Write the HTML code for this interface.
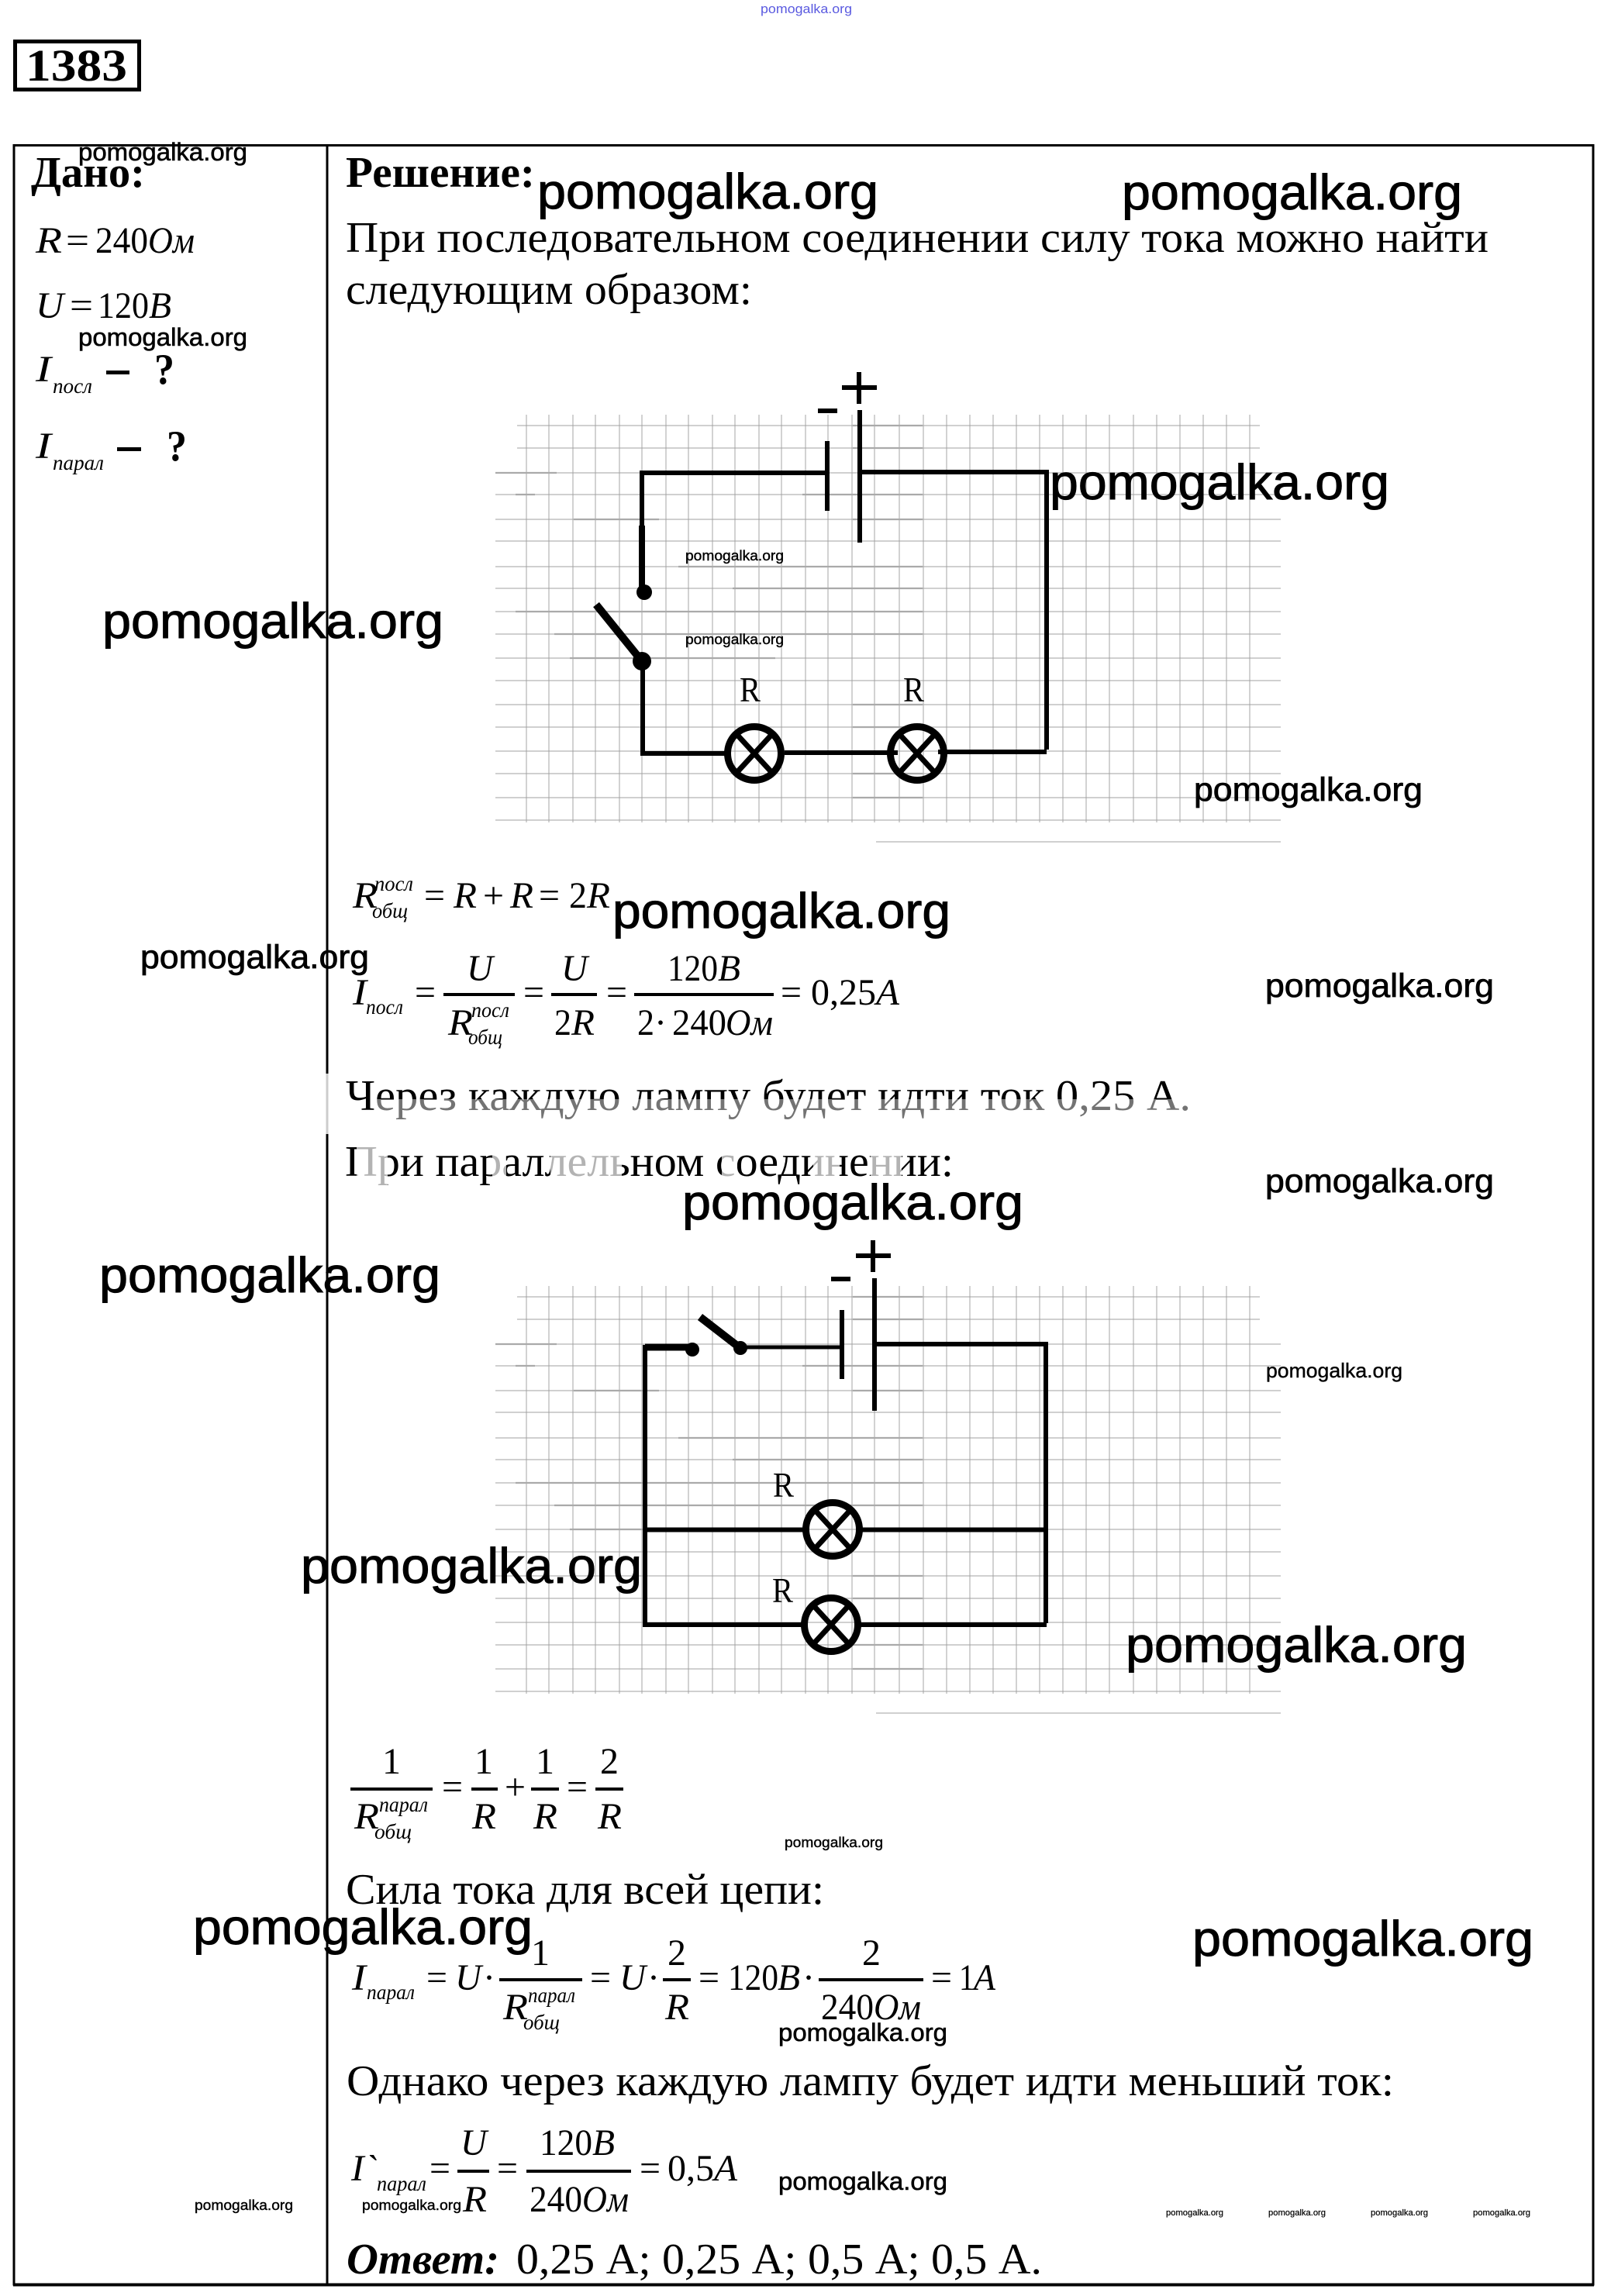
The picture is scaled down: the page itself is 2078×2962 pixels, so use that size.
<!DOCTYPE html>
<html><head><meta charset="utf-8"><style>
html,body{margin:0;padding:0;background:#fff}
svg{display:block}
text{font-family:"Liberation Serif",serif;fill:#000}
.w{font-family:"Liberation Sans",sans-serif}
.n{font-size:56px}.b{font-size:56px;font-weight:bold}
.m{font-size:48px}.i{font-size:48px;font-style:italic}
.s{font-size:27px;font-style:italic}
.w1{font-size:64px;stroke:#000;stroke-width:1}.w2{font-size:43px;stroke:#000;stroke-width:.8}.w3{font-size:32px;stroke:#000;stroke-width:.6}.w4{font-size:26px;stroke:#000;stroke-width:.4}.w5{font-size:18.5px;stroke:#000;stroke-width:.4}.w6{font-size:11px;stroke:#000;stroke-width:.2}
</style></head><body>
<svg xmlns="http://www.w3.org/2000/svg" width="2078" height="2962" viewBox="0 0 2078 2962">
<rect width="2078" height="2962" fill="#fff"/>
<defs>
<g id="g">
<path fill="none" stroke="#a6a6a6" stroke-width="1" d="M679 535V1061M708 535V1061M739 535V1061M768 535V1061M799 535V1061M828 535V1061M859 535V1061M888 535V1061M919 535V1061M948 535V1061M979 535V1061M1008 535V1061M1039 535V1061M1068 535V1061M1099 535V1061M1128 535V1061M1160 535V1061M1191 535V1061M1221 535V1061M1251 535V1061M1281 535V1061M1311 535V1061M1341 535V1061M1371 535V1061M1401 535V1061M1431 535V1061M1462 535V1061M1492 535V1061M1522 535V1061M1552 535V1061M1582 535V1061M1612 535V1061"/>
<path fill="none" stroke="#a0a0a0" stroke-width="1.1" d="M667 549H1625M667 578H1625M639 610H1652M639 638H1652M639 670H1652M639 698H1652M639 731H1652M639 759H1652M639 789H1652M639 818H1652M639 849H1652M639 878H1652M639 909H1652M639 938H1652M639 969H1652M639 998H1652M639 1029H1652M639 1058H1652M1130 1086H1652"/>
<path fill="none" stroke="#aaa" stroke-width="2.200" d="M1100 549H1190M1100 578H1190M639 610H718M665 638H690M1035 638H1190M740 670H850M1100 670H1190M875 731H1190M945 759H1190M665 789H1190M715 818H1190M735 849H1000M1100 731H1190M1100 909H1190M1100 938H1190M1100 998H1190M1100 1029H1190"/>
</g>
</defs>
<use href="#g"/>
<use href="#g" y="1124"/>

<!-- table -->
<path fill="none" stroke="#000" stroke-width="3" d="M18 187.500H2055V2947H18Z"/>
<path stroke="#000" stroke-width="4" d="M17 2947.500H2056"/>
<path stroke="#000" stroke-width="3" d="M422 186V1385M422 1463V2948"/>
<path stroke="#ccc" stroke-width="3" d="M422 1385V1463"/>

<!-- title -->
<rect x="19.500" y="53.500" width="160" height="62" fill="none" stroke="#000" stroke-width="5"/>
<text x="33" y="104" font-size="58" font-weight="bold" textLength="131" lengthAdjust="spacingAndGlyphs">1383</text>

<!-- given -->
<text x="40" y="241" class="b" textLength="147" lengthAdjust="spacingAndGlyphs">Дано:</text>
<text x="46" y="326" class="i" textLength="34" lengthAdjust="spacingAndGlyphs">R</text>
<text x="85" y="326" class="m" textLength="30" lengthAdjust="spacingAndGlyphs">=</text>
<text x="123" y="326" class="m" textLength="68" lengthAdjust="spacingAndGlyphs">240</text>
<text x="191" y="326" class="i" textLength="60" lengthAdjust="spacingAndGlyphs">Ом</text>
<text x="46" y="410" class="i" textLength="36" lengthAdjust="spacingAndGlyphs">U</text>
<text x="90" y="410" class="m" textLength="30" lengthAdjust="spacingAndGlyphs">=</text>
<text x="126" y="410" class="m" textLength="66" lengthAdjust="spacingAndGlyphs">120</text>
<text x="192" y="410" class="i" textLength="29" lengthAdjust="spacingAndGlyphs">B</text>
<text x="46" y="492" class="i" textLength="20" lengthAdjust="spacingAndGlyphs">I</text>
<text x="68" y="507" class="s" textLength="51" lengthAdjust="spacingAndGlyphs">посл</text>
<rect x="137" y="478" width="30" height="5"/>
<text x="199" y="495" class="b" textLength="26" lengthAdjust="spacingAndGlyphs">?</text>
<text x="46" y="591" class="i" textLength="20" lengthAdjust="spacingAndGlyphs">I</text>
<text x="68" y="606" class="s" textLength="66" lengthAdjust="spacingAndGlyphs">парал</text>
<rect x="151" y="577" width="31" height="5"/>
<text x="215" y="594" class="b" textLength="26" lengthAdjust="spacingAndGlyphs">?</text>

<!-- solution text -->
<text x="446" y="241" class="b" textLength="244" lengthAdjust="spacingAndGlyphs">Решение:</text>
<text x="446" y="325" class="n" textLength="1474" lengthAdjust="spacingAndGlyphs">При последовательном соединении силу тока можно найти</text>
<text x="446" y="392" class="n" textLength="524" lengthAdjust="spacingAndGlyphs">следующим образом:</text>

<!-- circuit 1 -->
<g fill="none" stroke="#000">
<path stroke-width="6" d="M828 680V610H1067M1109 609H1350V967M1350 970H1210M1158 971H1012M935 972H829V853"/>
<path stroke-width="8" d="M828 678V764"/>
<path stroke-width="6" d="M1067 569V659M1109 529V700M1108 480V521M1086 500H1131"/>
<rect x="1055" y="527" width="25" height="6" fill="#000" stroke="none"/>
<path stroke-width="10" d="M769 780L828 853"/>
<circle cx="973" cy="972" r="34.500" stroke-width="9"/>
<path stroke-width="7" d="M950 947L996 997M996 947L950 997"/>
<circle cx="1183" cy="972" r="34.500" stroke-width="9"/>
<path stroke-width="7" d="M1160 947L1206 997M1206 947L1160 997"/>
</g>
<circle cx="831" cy="764" r="10"/>
<circle cx="828" cy="853" r="12"/>
<text x="954" y="905" font-size="45" textLength="27" lengthAdjust="spacingAndGlyphs">R</text>
<text x="1165" y="905" font-size="45" textLength="27" lengthAdjust="spacingAndGlyphs">R</text>

<!-- formula 1 -->
<text x="455" y="1171" class="i" textLength="32" lengthAdjust="spacingAndGlyphs">R</text>
<text x="483" y="1149" class="s" textLength="50" lengthAdjust="spacingAndGlyphs">посл</text>
<text x="480" y="1184" class="s" textLength="46" lengthAdjust="spacingAndGlyphs">общ</text>
<text x="547" y="1171" class="m" textLength="27" lengthAdjust="spacingAndGlyphs">=</text>
<text x="585" y="1171" class="i" textLength="30" lengthAdjust="spacingAndGlyphs">R</text>
<text x="623" y="1171" class="m" textLength="27" lengthAdjust="spacingAndGlyphs">+</text>
<text x="658" y="1171" class="i" textLength="30" lengthAdjust="spacingAndGlyphs">R</text>
<text x="695" y="1171" class="m" textLength="27" lengthAdjust="spacingAndGlyphs">=</text>
<text x="734" y="1171" class="m" textLength="23" lengthAdjust="spacingAndGlyphs">2</text>
<text x="757" y="1171" class="i" textLength="30" lengthAdjust="spacingAndGlyphs">R</text>

<!-- formula 2 -->
<text x="455" y="1296" class="i" textLength="18" lengthAdjust="spacingAndGlyphs">I</text>
<text x="472" y="1308" class="s" textLength="48" lengthAdjust="spacingAndGlyphs">посл</text>
<text x="535" y="1296" class="m" textLength="27" lengthAdjust="spacingAndGlyphs">=</text>
<rect x="572" y="1281" width="92" height="4"/>
<text x="602" y="1265" class="i" textLength="34" lengthAdjust="spacingAndGlyphs">U</text>
<text x="578" y="1335" class="i" textLength="32" lengthAdjust="spacingAndGlyphs">R</text>
<text x="608" y="1312" class="s" textLength="49" lengthAdjust="spacingAndGlyphs">посл</text>
<text x="604" y="1347" class="s" textLength="44" lengthAdjust="spacingAndGlyphs">общ</text>
<text x="675" y="1296" class="m" textLength="27" lengthAdjust="spacingAndGlyphs">=</text>
<rect x="711" y="1281" width="59" height="4"/>
<text x="724" y="1265" class="i" textLength="34" lengthAdjust="spacingAndGlyphs">U</text>
<text x="715" y="1335" class="m" textLength="22" lengthAdjust="spacingAndGlyphs">2</text>
<text x="737" y="1335" class="i" textLength="30" lengthAdjust="spacingAndGlyphs">R</text>
<text x="782" y="1296" class="m" textLength="27" lengthAdjust="spacingAndGlyphs">=</text>
<rect x="818" y="1281" width="180" height="4"/>
<text x="861" y="1265" class="m" textLength="65" lengthAdjust="spacingAndGlyphs">120</text>
<text x="926" y="1265" class="i" textLength="29" lengthAdjust="spacingAndGlyphs">B</text>
<text x="822" y="1335" class="m" textLength="22" lengthAdjust="spacingAndGlyphs">2</text>
<text x="844" y="1335" class="m" textLength="16" lengthAdjust="spacingAndGlyphs">·</text>
<text x="867" y="1335" class="m" textLength="70" lengthAdjust="spacingAndGlyphs">240</text>
<text x="936" y="1335" class="i" textLength="61" lengthAdjust="spacingAndGlyphs">Ом</text>
<text x="1007" y="1296" class="m" textLength="27" lengthAdjust="spacingAndGlyphs">=</text>
<text x="1046" y="1296" class="m" textLength="84" lengthAdjust="spacingAndGlyphs">0,25</text>
<text x="1130" y="1296" class="i" textLength="30" lengthAdjust="spacingAndGlyphs">A</text>

<text x="446" y="1432" class="n" textLength="1090" lengthAdjust="spacingAndGlyphs">Через каждую лампу будет идти ток 0,25 А.</text>
<text x="445" y="1517" class="n" textLength="785" lengthAdjust="spacingAndGlyphs">При параллельном соединении:</text>
<g fill="#fff">
<rect x="486" y="1418" width="1050" height="34" opacity=".45"/>
<rect x="460" y="1470" width="40" height="64" opacity=".7"/>
<rect x="635" y="1470" width="18" height="64" opacity=".7"/>
<rect x="710" y="1470" width="92" height="64" opacity=".7"/>
<rect x="931" y="1470" width="20" height="64" opacity=".7"/>
<rect x="1049" y="1470" width="34" height="64" opacity=".7"/>
<rect x="1123" y="1470" width="40" height="64" opacity=".7"/>
</g>

<!-- circuit 2 -->
<g fill="none" stroke="#000">
<path stroke-width="6" d="M832 1735V2096H1034M1110 2096H1350M1128 1734H1349V2094M832 1973.500H1036M1112 1973.500H1352"/>
<path stroke-width="9" d="M832 1738H893"/>
<path stroke-width="5" d="M955 1738H1086"/>
<path stroke-width="6" d="M1086 1690V1779M1128 1649V1820M1126 1600V1641M1104 1620H1149"/>
<rect x="1072" y="1647" width="25" height="6" fill="#000" stroke="none"/>
<path stroke-width="10" d="M903 1699L956 1740"/>
<circle cx="1074" cy="1973" r="34.500" stroke-width="9"/>
<path stroke-width="7" d="M1051 1948L1097 1998M1097 1948L1051 1998"/>
<circle cx="1072" cy="2096" r="34.500" stroke-width="9"/>
<path stroke-width="7" d="M1049 2071L1095 2121M1095 2071L1049 2121"/>
</g>
<circle cx="893" cy="1741" r="9"/>
<circle cx="955" cy="1739" r="9"/>
<text x="997" y="1931" font-size="45" textLength="27" lengthAdjust="spacingAndGlyphs">R</text>
<text x="996" y="2067" font-size="45" textLength="27" lengthAdjust="spacingAndGlyphs">R</text>

<!-- formula 3 -->
<rect x="452" y="2306" width="106" height="4"/>
<text x="493" y="2288" class="m" textLength="24" lengthAdjust="spacingAndGlyphs">1</text>
<text x="457" y="2359" class="i" textLength="32" lengthAdjust="spacingAndGlyphs">R</text>
<text x="489" y="2337" class="s" textLength="63" lengthAdjust="spacingAndGlyphs">парал</text>
<text x="483" y="2372" class="s" textLength="48" lengthAdjust="spacingAndGlyphs">общ</text>
<text x="570" y="2321" class="m" textLength="27" lengthAdjust="spacingAndGlyphs">=</text>
<rect x="608" y="2306" width="34" height="4"/>
<text x="612" y="2288" class="m" textLength="24" lengthAdjust="spacingAndGlyphs">1</text>
<text x="609" y="2359" class="i" textLength="31" lengthAdjust="spacingAndGlyphs">R</text>
<text x="651" y="2321" class="m" textLength="27" lengthAdjust="spacingAndGlyphs">+</text>
<rect x="685" y="2306" width="36" height="4"/>
<text x="691" y="2288" class="m" textLength="24" lengthAdjust="spacingAndGlyphs">1</text>
<text x="688" y="2359" class="i" textLength="31" lengthAdjust="spacingAndGlyphs">R</text>
<text x="731" y="2321" class="m" textLength="27" lengthAdjust="spacingAndGlyphs">=</text>
<rect x="768" y="2306" width="36" height="4"/>
<text x="774" y="2288" class="m" textLength="24" lengthAdjust="spacingAndGlyphs">2</text>
<text x="771" y="2359" class="i" textLength="31" lengthAdjust="spacingAndGlyphs">R</text>

<text x="446" y="2456" class="n" textLength="617" lengthAdjust="spacingAndGlyphs">Сила тока для всей цепи:</text>

<!-- formula 4 -->
<text x="454" y="2567" class="i" textLength="18" lengthAdjust="spacingAndGlyphs">I</text>
<text x="473" y="2579" class="s" textLength="62" lengthAdjust="spacingAndGlyphs">парал</text>
<text x="550" y="2567" class="m" textLength="27" lengthAdjust="spacingAndGlyphs">=</text>
<text x="587" y="2567" class="i" textLength="34" lengthAdjust="spacingAndGlyphs">U</text>
<text x="623" y="2567" class="m" textLength="16" lengthAdjust="spacingAndGlyphs">·</text>
<rect x="644" y="2552" width="107" height="4"/>
<text x="685" y="2535" class="m" textLength="24" lengthAdjust="spacingAndGlyphs">1</text>
<text x="649" y="2605" class="i" textLength="32" lengthAdjust="spacingAndGlyphs">R</text>
<text x="681" y="2583" class="s" textLength="61" lengthAdjust="spacingAndGlyphs">парал</text>
<text x="675" y="2618" class="s" textLength="47" lengthAdjust="spacingAndGlyphs">общ</text>
<text x="761" y="2567" class="m" textLength="27" lengthAdjust="spacingAndGlyphs">=</text>
<text x="799" y="2567" class="i" textLength="34" lengthAdjust="spacingAndGlyphs">U</text>
<text x="835" y="2567" class="m" textLength="16" lengthAdjust="spacingAndGlyphs">·</text>
<rect x="855" y="2552" width="36" height="4"/>
<text x="861" y="2535" class="m" textLength="24" lengthAdjust="spacingAndGlyphs">2</text>
<text x="858" y="2605" class="i" textLength="31" lengthAdjust="spacingAndGlyphs">R</text>
<text x="901" y="2567" class="m" textLength="27" lengthAdjust="spacingAndGlyphs">=</text>
<text x="939" y="2567" class="m" textLength="65" lengthAdjust="spacingAndGlyphs">120</text>
<text x="1003" y="2567" class="i" textLength="29" lengthAdjust="spacingAndGlyphs">B</text>
<text x="1035" y="2567" class="m" textLength="16" lengthAdjust="spacingAndGlyphs">·</text>
<rect x="1056" y="2552" width="135" height="4"/>
<text x="1112" y="2535" class="m" textLength="24" lengthAdjust="spacingAndGlyphs">2</text>
<text x="1059" y="2605" class="m" textLength="68" lengthAdjust="spacingAndGlyphs">240</text>
<text x="1127" y="2605" class="i" textLength="61" lengthAdjust="spacingAndGlyphs">Ом</text>
<text x="1201" y="2567" class="m" textLength="27" lengthAdjust="spacingAndGlyphs">=</text>
<text x="1237" y="2567" class="m" textLength="20" lengthAdjust="spacingAndGlyphs">1</text>
<text x="1256" y="2567" class="i" textLength="28" lengthAdjust="spacingAndGlyphs">A</text>

<text x="447" y="2703" class="n" textLength="1351" lengthAdjust="spacingAndGlyphs">Однако через каждую лампу будет идти меньший ток:</text>

<!-- formula 5 -->
<text x="453" y="2813" class="i" textLength="33" lengthAdjust="spacingAndGlyphs">I`</text>
<text x="486" y="2826" class="s" textLength="64" lengthAdjust="spacingAndGlyphs">парал</text>
<text x="554" y="2813" class="m" textLength="27" lengthAdjust="spacingAndGlyphs">=</text>
<rect x="590" y="2799" width="41" height="4"/>
<text x="594" y="2780" class="i" textLength="34" lengthAdjust="spacingAndGlyphs">U</text>
<text x="597" y="2853" class="i" textLength="31" lengthAdjust="spacingAndGlyphs">R</text>
<text x="641" y="2813" class="m" textLength="27" lengthAdjust="spacingAndGlyphs">=</text>
<rect x="679" y="2799" width="135" height="4"/>
<text x="696" y="2780" class="m" textLength="68" lengthAdjust="spacingAndGlyphs">120</text>
<text x="764" y="2780" class="i" textLength="29" lengthAdjust="spacingAndGlyphs">B</text>
<text x="683" y="2853" class="m" textLength="68" lengthAdjust="spacingAndGlyphs">240</text>
<text x="751" y="2853" class="i" textLength="60" lengthAdjust="spacingAndGlyphs">Ом</text>
<text x="825" y="2813" class="m" textLength="27" lengthAdjust="spacingAndGlyphs">=</text>
<text x="861" y="2813" class="m" textLength="60" lengthAdjust="spacingAndGlyphs">0,5</text>
<text x="921" y="2813" class="i" textLength="30" lengthAdjust="spacingAndGlyphs">A</text>

<text x="447" y="2933" font-size="56" font-weight="bold" font-style="italic" textLength="197" lengthAdjust="spacingAndGlyphs">Ответ:</text>
<text x="666" y="2933" class="n" textLength="678" lengthAdjust="spacingAndGlyphs">0,25 А; 0,25 А; 0,5 А; 0,5 А.</text>

<!-- watermarks -->
<g class="wm">
<text x="981" y="17" class="w" font-size="17" textLength="118" lengthAdjust="spacingAndGlyphs" style="fill:#5a5ae0">pomogalka.org</text>
<text x="101" y="207" class="w w3" textLength="218" lengthAdjust="spacingAndGlyphs">pomogalka.org</text>
<text x="101" y="446" class="w w3" textLength="218" lengthAdjust="spacingAndGlyphs">pomogalka.org</text>
<text x="693" y="269" class="w w1" textLength="440" lengthAdjust="spacingAndGlyphs">pomogalka.org</text>
<text x="1447" y="270" class="w w1" textLength="439" lengthAdjust="spacingAndGlyphs">pomogalka.org</text>
<text x="1354" y="644" class="w w1" textLength="438" lengthAdjust="spacingAndGlyphs">pomogalka.org</text>
<text x="132" y="823" class="w w1" textLength="440" lengthAdjust="spacingAndGlyphs">pomogalka.org</text>
<text x="884" y="723" class="w w5" textLength="127" lengthAdjust="spacingAndGlyphs">pomogalka.org</text>
<text x="884" y="831" class="w w5" textLength="127" lengthAdjust="spacingAndGlyphs">pomogalka.org</text>
<text x="1540" y="1033" class="w w2" textLength="295" lengthAdjust="spacingAndGlyphs">pomogalka.org</text>
<text x="790" y="1197" class="w w1" textLength="436" lengthAdjust="spacingAndGlyphs">pomogalka.org</text>
<text x="181" y="1249" class="w w2" textLength="295" lengthAdjust="spacingAndGlyphs">pomogalka.org</text>
<text x="1632" y="1286" class="w w2" textLength="295" lengthAdjust="spacingAndGlyphs">pomogalka.org</text>
<text x="1632" y="1538" class="w w2" textLength="295" lengthAdjust="spacingAndGlyphs">pomogalka.org</text>
<text x="880" y="1573" class="w w1" textLength="440" lengthAdjust="spacingAndGlyphs">pomogalka.org</text>
<text x="128" y="1667" class="w w1" textLength="440" lengthAdjust="spacingAndGlyphs">pomogalka.org</text>
<text x="1633" y="1777" class="w w4" textLength="176" lengthAdjust="spacingAndGlyphs">pomogalka.org</text>
<text x="388" y="2042" class="w w1" textLength="440" lengthAdjust="spacingAndGlyphs">pomogalka.org</text>
<text x="1452" y="2144" class="w w1" textLength="440" lengthAdjust="spacingAndGlyphs">pomogalka.org</text>
<text x="1012" y="2383" class="w w5" textLength="127" lengthAdjust="spacingAndGlyphs">pomogalka.org</text>
<text x="249" y="2508" class="w w1" textLength="438" lengthAdjust="spacingAndGlyphs">pomogalka.org</text>
<text x="1538" y="2523" class="w w1" textLength="440" lengthAdjust="spacingAndGlyphs">pomogalka.org</text>
<text x="1004" y="2633" class="w w3" textLength="218" lengthAdjust="spacingAndGlyphs">pomogalka.org</text>
<text x="1004" y="2825" class="w w3" textLength="218" lengthAdjust="spacingAndGlyphs">pomogalka.org</text>
<text x="251" y="2851" class="w w5" textLength="127" lengthAdjust="spacingAndGlyphs">pomogalka.org</text>
<text x="467" y="2851" class="w w5" textLength="128" lengthAdjust="spacingAndGlyphs">pomogalka.org</text>
<text x="1504" y="2858" class="w w6" textLength="74" lengthAdjust="spacingAndGlyphs">pomogalka.org</text>
<text x="1636" y="2858" class="w w6" textLength="74" lengthAdjust="spacingAndGlyphs">pomogalka.org</text>
<text x="1768" y="2858" class="w w6" textLength="74" lengthAdjust="spacingAndGlyphs">pomogalka.org</text>
<text x="1900" y="2858" class="w w6" textLength="74" lengthAdjust="spacingAndGlyphs">pomogalka.org</text>
</g>
</svg>
</body></html>
